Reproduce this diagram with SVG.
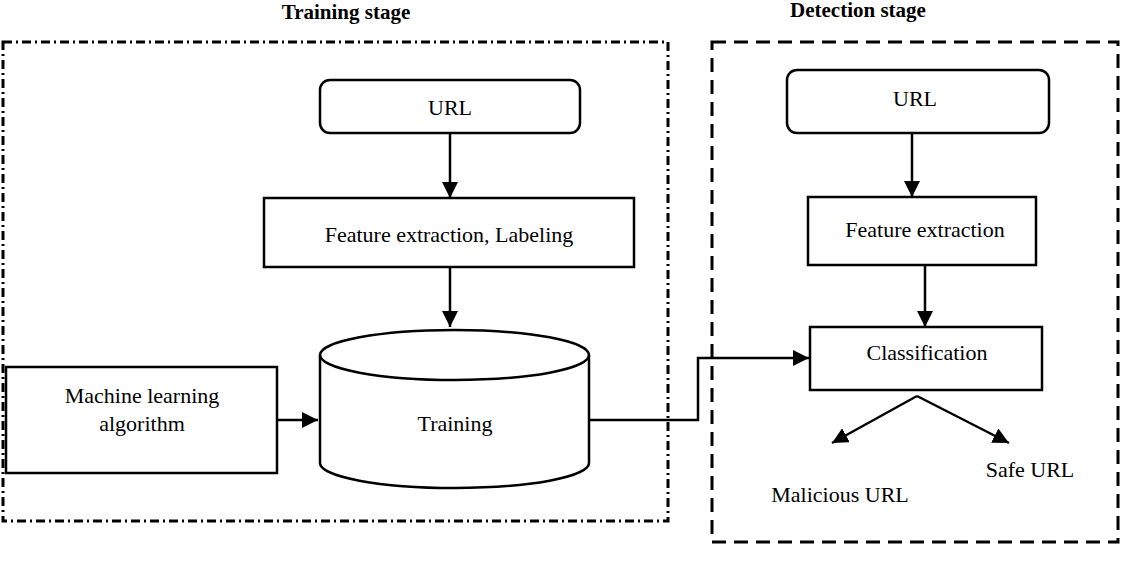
<svg xmlns="http://www.w3.org/2000/svg" width="1122" height="564" viewBox="0 0 1122 564" font-family="'Liberation Serif', 'Times New Roman', serif">
<style>
text{font-family:'Liberation Serif','Times New Roman',serif;font-size:22px;fill:#000;text-anchor:middle}
.title{font-weight:bold;font-size:21px}
.node{fill:#fff;stroke:#000;stroke-width:2.5}
.conn{fill:none;stroke:#000;stroke-width:2.5}
</style>
<defs>
<marker id="arrow" viewBox="0 0 16 16" refX="16" refY="8" markerWidth="16" markerHeight="16" markerUnits="userSpaceOnUse" orient="auto">
<path d="M0,0 L16,8 L0,16 z" fill="#000"/>
</marker>
</defs>
<g id="stages">
<text class="title" x="346" y="19">Training stage</text>
<rect x="3" y="42" width="665" height="479" fill="none" stroke="#000" stroke-width="3" stroke-dasharray="9,4,2,4"/>
<text class="title" x="858" y="17">Detection stage</text>
<rect x="712" y="42" width="406" height="500" fill="none" stroke="#000" stroke-width="3" stroke-dasharray="14,8"/>
</g>
<g id="connectors">
<line class="conn" x1="450" y1="133" x2="450" y2="198" marker-end="url(#arrow)"/>
<line class="conn" x1="450" y1="267" x2="450" y2="327" marker-end="url(#arrow)"/>
<line class="conn" x1="277" y1="420" x2="318" y2="420" marker-end="url(#arrow)"/>
<polyline class="conn" points="589,420 698,420 698,358 809,358" marker-end="url(#arrow)"/>
<line class="conn" x1="912" y1="133" x2="912" y2="197" marker-end="url(#arrow)"/>
<line class="conn" x1="925" y1="265" x2="925" y2="327" marker-end="url(#arrow)"/>
<line class="conn" x1="917" y1="396" x2="832" y2="443" marker-end="url(#arrow)"/>
<line class="conn" x1="917" y1="396" x2="1009" y2="443" marker-end="url(#arrow)"/>
</g>
<g id="url-train">
<rect class="node" x="320" y="80" width="260" height="53" rx="10"/>
<text x="450" y="115">URL</text>
</g>
<g id="feature-labeling">
<rect class="node" x="264" y="198" width="370" height="69"/>
<text x="449" y="242">Feature extraction, Labeling</text>
</g>
<g id="training">
<path class="node" d="M320,355 L320,463 A134.5,25 0 0 0 589,463 L589,355 A134.5,25 0 0 0 320,355 Z"/>
<path class="conn" d="M320,355 A134.5,25 0 0 0 589,355"/>
<text x="455" y="431">Training</text>
</g>
<g id="ml-algorithm">
<rect class="node" x="6" y="367" width="271" height="106"/>
<text x="142" y="403">Machine learning</text>
<text x="142" y="431">algorithm</text>
</g>
<g id="url-detect">
<rect class="node" x="787" y="70" width="262" height="63" rx="10"/>
<text x="915" y="106">URL</text>
</g>
<g id="feature-extraction">
<rect class="node" x="808" y="197" width="228" height="68"/>
<text x="925" y="237">Feature extraction</text>
</g>
<g id="classification">
<rect class="node" x="810" y="327" width="232" height="63"/>
<text x="927" y="360">Classification</text>
</g>
<g id="malicious">
<text x="840" y="502">Malicious URL</text>
</g>
<g id="safe">
<text x="1030" y="477">Safe URL</text>
</g>
</svg>
